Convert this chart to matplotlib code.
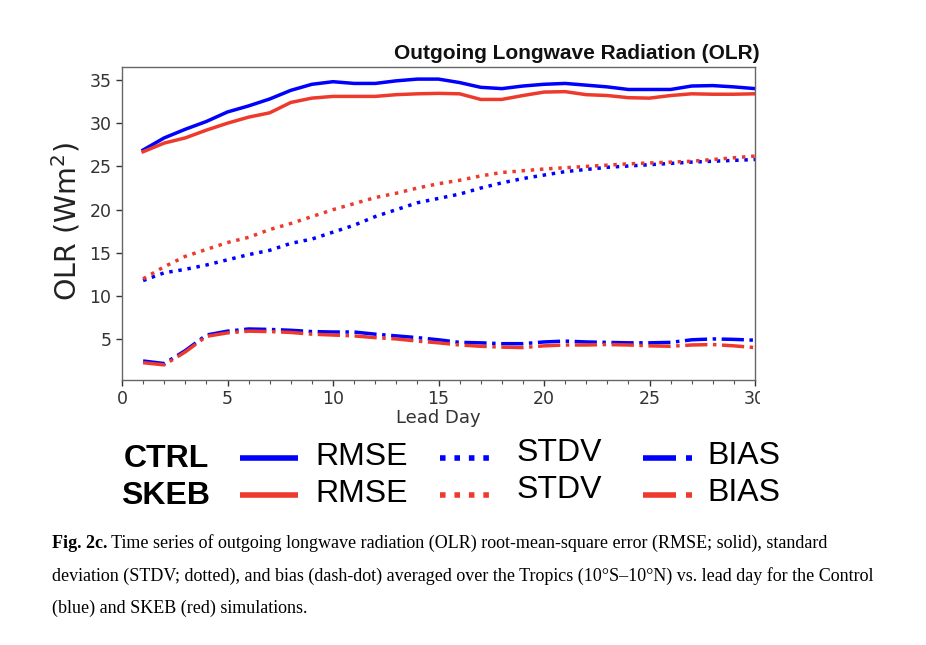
import matplotlib
matplotlib.use("Agg")
import matplotlib.pyplot as plt
from matplotlib.lines import Line2D
from matplotlib.patches import Rectangle

# ---------------- data ----------------
days = list(range(1, 31))
ctrl_rmse = [26.9, 28.3, 29.3, 30.2, 31.3, 32.0, 32.8, 33.8, 34.5, 34.8, 34.6, 34.6, 34.9, 35.1, 35.1,
             34.7, 34.15, 34.0, 34.3, 34.5, 34.6, 34.4, 34.2, 33.9, 33.9, 33.9, 34.3, 34.35, 34.2, 34.0]
skeb_rmse = [26.7, 27.7, 28.3, 29.2, 30.0, 30.7, 31.2, 32.4, 32.9, 33.1, 33.1, 33.1, 33.3, 33.4, 33.45,
             33.4, 32.75, 32.75, 33.2, 33.6, 33.65, 33.3, 33.2, 32.95, 32.9, 33.2, 33.4, 33.35, 33.35, 33.4]
ctrl_stdv = [11.8, 12.7, 13.1, 13.6, 14.2, 14.8, 15.3, 16.1, 16.6, 17.4, 18.2, 19.2, 20.0, 20.8, 21.3,
             21.8, 22.5, 23.1, 23.6, 24.0, 24.4, 24.65, 24.9, 25.05, 25.2, 25.35, 25.5, 25.6, 25.7, 25.8]
skeb_stdv = [12.0, 13.4, 14.6, 15.4, 16.2, 16.8, 17.7, 18.4, 19.2, 20.0, 20.7, 21.4, 21.9, 22.5, 23.0,
             23.4, 23.9, 24.3, 24.5, 24.7, 24.85, 25.0, 25.15, 25.3, 25.4, 25.5, 25.6, 25.8, 26.0, 26.2]
ctrl_bias = [2.5, 2.2, 3.7, 5.5, 5.95, 6.2, 6.15, 6.05, 5.9, 5.85, 5.85, 5.6, 5.4, 5.2, 4.95,
             4.65, 4.6, 4.5, 4.5, 4.7, 4.8, 4.7, 4.65, 4.6, 4.6, 4.65, 4.95, 5.05, 5.0, 4.9]
skeb_bias = [2.3, 2.05, 3.55, 5.35, 5.75, 5.95, 5.9, 5.8, 5.6, 5.5, 5.4, 5.2, 5.05, 4.8, 4.6,
             4.35, 4.2, 4.1, 4.05, 4.25, 4.35, 4.35, 4.4, 4.35, 4.25, 4.2, 4.35, 4.4, 4.25, 4.05]
x_ticks = [0, 5, 10, 15, 20, 25, 30]
y_ticks = [5, 10, 15, 20, 25, 30, 35]

title = "Outgoing Longwave Radiation (OLR)"
caption_bold = "Fig. 2c."
caption_lines = [
    " Time series of outgoing longwave radiation (OLR) root-mean-square error (RMSE; solid), standard",
    "deviation (STDV; dotted), and bias (dash-dot) averaged over the Tropics (10\u00b0S\u201310\u00b0N) vs. lead day for the Control",
    "(blue) and SKEB (red) simulations.",
]

BLUE = "#0000ff"
RED = "#ee3a2c"
W, H = 926, 645

fig = plt.figure(figsize=(W / 100, H / 100), dpi=100)
fig.patch.set_facecolor("white")

L, R, T, B = 122, 755, 67, 380
ax = fig.add_axes([L / W, 1 - B / H, (R - L) / W, (B - T) / H])

lw = 2.5
ax.plot(days, ctrl_rmse, color=BLUE, lw=lw, ls="-")
ax.plot(days, skeb_rmse, color=RED, lw=lw, ls="-")
ax.plot(days, ctrl_stdv, color=BLUE, lw=lw, ls=":")
ax.plot(days, skeb_stdv, color=RED, lw=lw, ls=":")
ax.plot(days, ctrl_bias, color=BLUE, lw=lw, ls="-.")
ax.plot(days, skeb_bias, color=RED, lw=lw, ls="-.")

ax.set_xlim(0, 30)
ax.set_ylim(0.3, 36.5)
ax.set_xticks(x_ticks)
ax.set_xticks(days, minor=True)
ax.set_yticks(y_ticks)
ax.tick_params(axis="both", which="major", labelsize=12.5, colors="#333333", length=4, width=1)
ax.tick_params(axis="x", which="minor", length=3, width=0.8, colors="#555555")
for s in ax.spines.values():
    s.set_color("#666666")
    s.set_linewidth(1.0)

# overlay in pixel coordinates for text / legend
ov = fig.add_axes([0, 0, 1, 1])
ov.set_xlim(0, W)
ov.set_ylim(H, 0)
ov.axis("off")

# clip the right part of the "30" tick label as in the reference
ov.add_patch(Rectangle((760, 383), 166, 30, facecolor="white", edgecolor="none", zorder=5))

ov.text(760, 59, title, ha="right", va="baseline", fontsize=15, fontweight="bold",
        family="Liberation Sans", color="#111111")
ov.text(66, 222, r"OLR (Wm$^2$)", rotation=90, ha="center", va="center", fontsize=20.5, color="#222222")
ov.text(438, 418, "Lead Day", ha="center", va="center", fontsize=13, color="#333333")

# legend block
leg_font = dict(family="Liberation Sans", fontsize=23, color="black")
rows = [(458, BLUE, "CTRL"), (495, RED, "SKEB")]
for yc, col, name in rows:
    ov.text(166, yc + 1, name, ha="center", va="center", fontweight="bold", **leg_font)
    ov.add_line(Line2D([240, 298], [yc, yc], color=col, lw=4, solid_capstyle="butt"))
    ov.text(315, yc - 1, "RMSE", ha="left", va="center", **leg_font)
    ov.add_line(Line2D([440, 497], [yc, yc], color=col, lw=4, ls=(0, (1, 1.6))))
    ov.text(517, yc - 5, "STDV", ha="left", va="center", **leg_font)
    ov.add_line(Line2D([643, 676], [yc, yc], color=col, lw=4, solid_capstyle="butt"))
    ov.add_line(Line2D([686, 692], [yc, yc], color=col, lw=4, solid_capstyle="butt"))
    ov.text(707, yc - 2, "BIAS", ha="left", va="center", **leg_font)

# caption
cap_font = dict(family="Liberation Serif", fontsize=13, color="black")
tb = ov.text(52, 548, caption_bold, ha="left", va="baseline", fontweight="bold", **cap_font)
fig.canvas.draw()
bb = tb.get_window_extent(renderer=fig.canvas.get_renderer())
x_end = bb.x1
inv = ov.transData.inverted()
x_end_data = inv.transform((x_end, 0))[0]
ov.text(x_end_data, 548, caption_lines[0], ha="left", va="baseline", **cap_font)
ov.text(52, 581, caption_lines[1], ha="left", va="baseline", **cap_font)
ov.text(52, 613, caption_lines[2], ha="left", va="baseline", **cap_font)

fig.savefig("out.png", dpi=100, facecolor="white")
